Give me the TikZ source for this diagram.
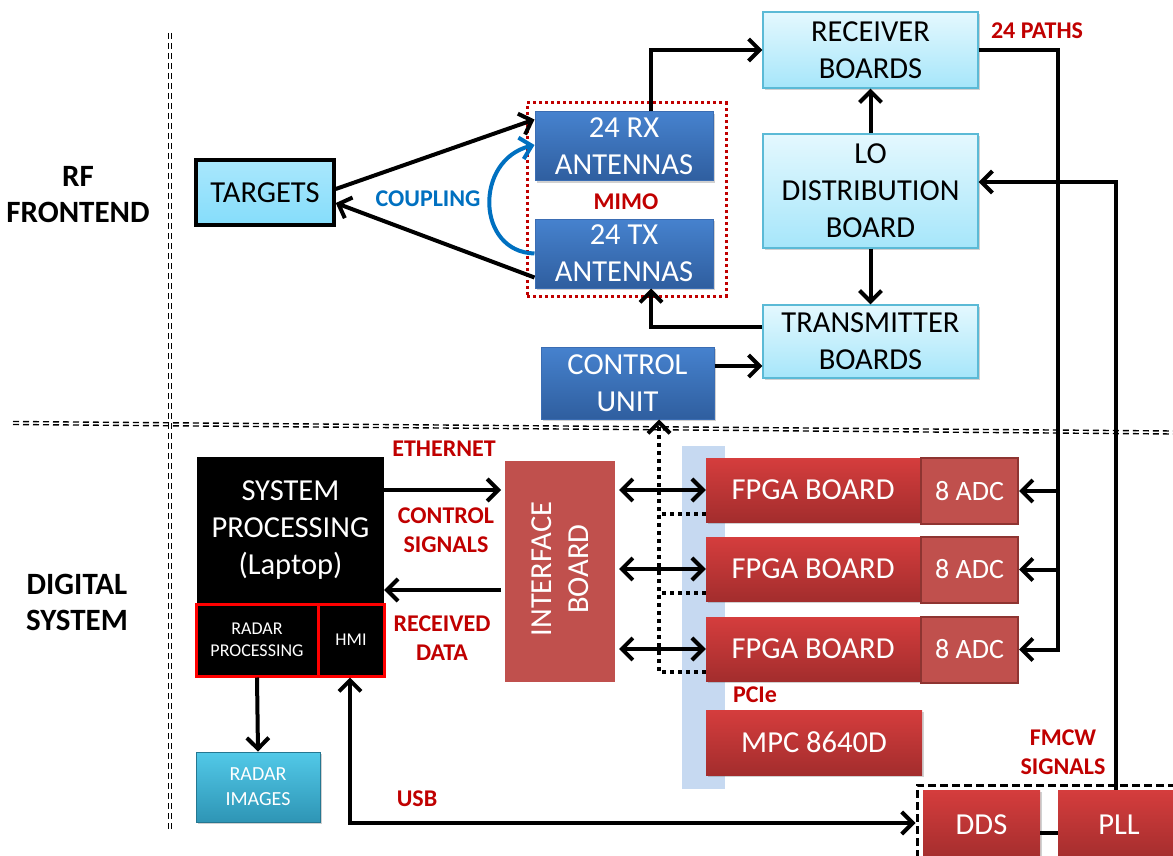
\documentclass[tikz,border=0pt]{standalone}
\usepackage{fontspec}
\setmainfont{Carlito}
\usetikzlibrary{arrows.meta,shadows}

\definecolor{redtxt}{HTML}{C00000}
\definecolor{bluetxt}{HTML}{0070C0}
\definecolor{ltop}{HTML}{E4F8FE}
\definecolor{lbot}{HTML}{A6E6FA}
\definecolor{lbord}{HTML}{5BBAD6}
\definecolor{dtop}{HTML}{4682CE}
\definecolor{dbot}{HTML}{2F5E9F}
\definecolor{dbord}{HTML}{3B6DB3}
\definecolor{rtop}{HTML}{D53D3D}
\definecolor{rbot}{HTML}{A32D2D}
\definecolor{adcfill}{HTML}{C0504D}
\definecolor{adcbord}{HTML}{8E3431}
\definecolor{tgtfill}{HTML}{85DDFB}
\definecolor{imgtop}{HTML}{52C9E8}
\definecolor{imgbot}{HTML}{2E95B5}
\definecolor{pcieblue}{HTML}{C6D9F1}

\newcommand\fBig{\fontsize{30.5}{37}\selectfont}
\newcommand\fLbl{\fontsize{24}{29}\selectfont\bfseries}
\newcommand\fSide{\fontsize{31}{36}\selectfont\bfseries}

\tikzset{
  >={Straight Barb[length=11pt,width=22pt]},
  arr/.style={line width=4pt,->},
  darr/.style={line width=4pt,<->},
  wire/.style={line width=4pt},
  dots/.style={line width=4pt,dash pattern=on 4pt off 4pt},
  sep/.style={line width=1.4pt,dash pattern=on 6pt off 4pt},
  shade/.style={drop shadow={shadow xshift=1.5pt,shadow yshift=-2pt,opacity=0.3,fill=black!60}},
  base/.style={inner sep=0pt,align=center,font=\fBig},
  lbox/.style={base,shade,draw=lbord,line width=1.2pt,top color=ltop,bottom color=lbot},
  dblue/.style={base,shade,draw=dbord,line width=1pt,top color=dtop,bottom color=dbot,text=white},
  rbox/.style={base,shade,top color=rtop,bottom color=rbot,text=white},
  adcbox/.style={base,draw=adcbord,line width=2pt,fill=adcfill,text=white},
  blkbox/.style={base,fill=black,text=white},
  lbl/.style={align=center,text=redtxt,font=\fLbl,inner sep=0pt},
  side/.style={align=center,font=\fSide,inner sep=0pt},
}

\begin{document}
\begin{tikzpicture}[x=1pt,y=-1pt]
\useasboundingbox (0,0) rectangle (1173,856);
\clip (0,0) rectangle (1173,856);

% section separators (double dashed lines)
\draw[sep] (168.5,33) -- (168.5,829);
\draw[sep] (171.5,33) -- (171.5,829);
\draw[sep] (13,421.5) -- (1173,431);
\draw[sep] (13,424.5) -- (1173,434);

% section titles
\node[side] (rflbl) at (78,195) {RF\\FRONTEND};
\node[side] (diglbl) at (77,602) {DIGITAL\\SYSTEM};

% ---------------- RF frontend ----------------
\node[draw=redtxt,line width=3pt,dash pattern=on 3pt off 3pt,
      minimum width=199pt,minimum height=193pt] (mimo) at (626.5,199.5) {};
\node[base,draw=black,line width=3.5pt,top color=tgtfill!70!white,bottom color=tgtfill,
      minimum width=138pt,minimum height=65pt] (targets) at (265,192.5) {TARGETS};
\node[dblue,minimum width=178pt,minimum height=69pt] (rx) at (624,146.5) {24 RX\\ANTENNAS};
\node[dblue,minimum width=178pt,minimum height=69pt] (tx) at (624,253.5) {24 TX\\ANTENNAS};
\node[lbl] (mimolbl) at (626,202) {MIMO};
\node[lbl,text=bluetxt] (couplbl) at (428,199) {COUPLING};

\node[lbox,minimum width=215pt,minimum height=76pt] (recv) at (870.5,50) {RECEIVER\\BOARDS};
\node[lbox,minimum width=215pt,minimum height=114pt] (lo) at (870.5,191) {LO\\DISTRIBUTION\\BOARD};
\node[lbox,minimum width=215pt,minimum height=73pt] (trans) at (870.5,341.5) {TRANSMITTER\\BOARDS};
\node[dblue,minimum width=173pt,minimum height=72pt] (ctrl) at (627.5,383) {CONTROL\\UNIT};
\node[lbl] (pathslbl) at (1037,31) {24 PATHS};

% ---------------- digital system ----------------
\node[fill=pcieblue,minimum width=43pt,minimum height=343pt,inner sep=0pt] (pcie) at (703.5,617.5) {};
\node[blkbox,minimum width=187pt,minimum height=147pt] (sys) at (290.5,530.5) {SYSTEM\\PROCESSING\\(Laptop)};
\node[blkbox,draw=red,line width=3pt,font=\fontsize{18}{22}\selectfont,
      minimum width=122pt,minimum height=72pt] (radproc) at (257,640) {RADAR\\PROCESSING};
\node[blkbox,draw=red,line width=3pt,font=\fontsize{18}{22}\selectfont,
      minimum width=66pt,minimum height=72pt] (hmi) at (351,640) {HMI};
\node[base,shade,top color=imgtop,bottom color=imgbot,text=white,draw=imgbot!80!black,line width=0.8pt,
      font=\fontsize{20}{25}\selectfont,
      minimum width=124pt,minimum height=70pt] (radimg) at (258,787) {RADAR\\IMAGES};

\node[base,shade,fill=adcfill,draw=white,line width=4pt,
      minimum width=114pt,minimum height=225pt] (iface) at (560,571.5) {};
\node[base,rotate=90,text=white] (ifacetxt) at (560,569) {INTERFACE\\BOARD};

\node[rbox,minimum width=214pt,minimum height=64pt] (fpga1) at (813,490) {FPGA BOARD};
\node[rbox,minimum width=214pt,minimum height=64pt] (fpga2) at (813,569) {FPGA BOARD};
\node[rbox,minimum width=214pt,minimum height=64pt] (fpga3) at (813,649) {FPGA BOARD};
\node[adcbox,minimum width=97pt,minimum height=66pt,font=\fontsize{28}{34}\selectfont] (adc1) at (969.5,491) {8 ADC};
\node[adcbox,minimum width=97pt,minimum height=66pt,font=\fontsize{28}{34}\selectfont] (adc2) at (969.5,569.5) {8 ADC};
\node[adcbox,minimum width=97pt,minimum height=66pt,font=\fontsize{28}{34}\selectfont] (adc3) at (969.5,649.5) {8 ADC};
\node[rbox,minimum width=216pt,minimum height=65pt] (mpc) at (814,742.5) {MPC 8640D};
\node[lbl] (pcielbl) at (755,695) {PCIe};

\node[draw=black,line width=3pt,dash pattern=on 8pt off 4pt,inner sep=0pt,
      minimum width=273pt,minimum height=85pt] (fmcw) at (1053.5,827.5) {};
\node[rbox,minimum width=117pt,minimum height=70pt] (dds) at (981.5,825) {DDS};
\node[rbox,minimum width=122pt,minimum height=70pt] (pll) at (1119,825) {PLL};
\node[lbl] (fmcwlbl) at (1063,752) {FMCW\\SIGNALS};

\node[lbl] (ethlbl) at (444,449) {ETHERNET};
\node[lbl] (ctllbl) at (446,530) {CONTROL\\SIGNALS};
\node[lbl] (rcvlbl) at (442,638) {RECEIVED\\DATA};
\node[lbl] (usblbl) at (417,799) {USB};

% ---------------- connectors: RF frontend ----------------
\draw[arr] ([yshift=3.5pt]targets.east) -- ([yshift=-8pt]rx.north west);
\draw[arr] ([yshift=11pt]tx.south west) -- ([yshift=-10.5pt]targets.east);
\draw[line width=4pt,bluetxt,->] (tx.west) .. controls (476,252) and (474,160) .. ([yshift=1.5pt]rx.west);
\draw[arr] ([xshift=27pt]rx.north) |- (recv.west);
\draw[arr] (lo.north) -- (recv.south);
\draw[arr] (lo.south) -- (trans.north);
\draw[arr] ([yshift=14.5pt]trans.west) -| ([xshift=27pt]tx.south);
\coordinate (cu) at ([yshift=17pt]ctrl.east);
\draw[arr] (cu) -- (cu -| trans.west);

% receiver outputs to the ADCs
\coordinate (bus) at (1058,50);
\draw[arr] (recv.east) -| (bus |- adc3.east) -- (adc3.east);
\draw[arr] (bus |- adc1.east) -- (adc1.east);
\draw[arr] (bus |- adc2.east) -- (adc2.east);

% FMCW reference to the LO distribution
\draw[arr] ([xshift=-3pt]pll.north) |- ([yshift=9pt]lo.east);

% ---------------- connectors: digital system ----------------
\coordinate (eth) at ([yshift=40.5pt]sys.east);
\draw[arr] (eth) -- (eth -| iface.west);
\coordinate (rcv) at ([yshift=-59.5pt]sys.east);
\draw[arr] (rcv -| iface.west) -- (rcv);
\draw[darr] (iface.east |- fpga1.west) -- (fpga1.west);
\draw[darr] (iface.east |- fpga2.west) -- (fpga2.west);
\draw[darr] (iface.east |- fpga3.west) -- (fpga3.west);

% control bus from the FPGA boards to the control unit
\draw[dots,->] ([yshift=-23pt]fpga3.west) -| ([xshift=31.5pt]ctrl.south);
\draw[dots] ([yshift=-24pt]fpga1.west) -- +(-47,0);
\draw[dots] ([yshift=-24pt]fpga2.west) -- +(-47,0);

\draw[arr] (radproc.south) -- (radimg.north);
\coordinate (usb) at (350,823);
\draw[darr] (hmi.south -| usb) -- (usb) -- (usb -| fmcw.west);
\draw[wire] ([yshift=-8pt]dds.east) -- ([yshift=-8pt]pll.west);
\end{tikzpicture}
\end{document}
